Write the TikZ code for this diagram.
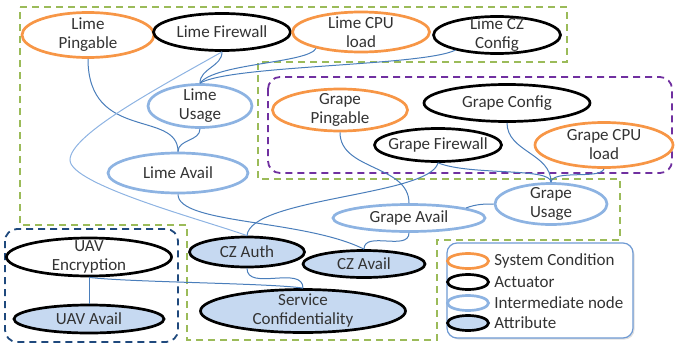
\documentclass[tikz,border=0pt]{standalone}
\usepackage{fontspec}
\setmainfont{Carlito}
\usetikzlibrary{shapes.geometric,shadows,positioning}

\definecolor{condorange}{HTML}{F79646}
\definecolor{interblue}{HTML}{8DB3E2}
\definecolor{attrfill}{HTML}{C6D9F1}
\definecolor{linkblue}{HTML}{4A7EBB}
\definecolor{keyblue}{HTML}{6F9AD3}
\definecolor{zonegreen}{HTML}{9BBB59}
\definecolor{zonepurple}{HTML}{7030A0}
\definecolor{zonenavy}{HTML}{1F497D}

\tikzset{
  dnode/.style={ellipse, line width=2.7pt, fill=white, align=center,
    inner xsep=-15pt, inner ysep=-6pt, text=black!80,
    font=\fontsize{17}{19}\selectfont},
  syscond/.style={dnode, draw=condorange},
  actuator/.style={dnode, draw=black},
  internode/.style={dnode, draw=interblue},
  attribute/.style={dnode, draw=black, fill=attrfill},
  link/.style={draw=linkblue, line width=1pt},
  farlink/.style={draw=interblue, line width=1pt},
  zone/.style={dash pattern=on 7pt off 5pt, line width=1.8pt},
  keytext/.style={text=black!80, font=\fontsize{17}{19}\selectfont},
}

\begin{document}
\begin{tikzpicture}[x=1pt,y=1pt]
      \useasboundingbox (0,0) rectangle (676,-348);
      % zones:
      %   green for the hosts, purple for the Grape host,
      %   navy for the UAV
      \draw[zone, draw=zonegreen] (20,-7) -- (567,-7) -- (567,-62)
        -- (258,-62) -- (258,-179) -- (620,-179) -- (620,-240)
        -- (437,-240) -- (437,-340) -- (187,-340) -- (187,-225)
        -- (20,-225) -- cycle;
      \draw[zone, draw=zonepurple, rounded corners=12pt]
        (268,-77) rectangle (672,-173);
      \draw[zone, draw=zonenavy, rounded corners=12pt]
        (5,-229) rectangle (178,-342);
      % Lime host
      \node[syscond, minimum width=132pt, minimum height=45pt]
        (lping) at (88,-35) {Lime\\Pingable};
      \node[actuator, minimum width=137pt, minimum height=37pt]
        (lfw) at (222,-32) {Lime Firewall};
      \node[syscond, minimum width=137pt, minimum height=40pt]
        (lcpu) at (361,-32) {Lime CPU\\load};
      \node[actuator, minimum width=127pt, minimum height=37pt]
        (lcz) at (497,-35) {Lime CZ\\Config};
      \node[internode, minimum width=104pt, minimum height=43pt]
        (lusage) at (200,-106) {Lime\\Usage};
      \node[internode, minimum width=140pt, minimum height=40pt]
        (lavail) at (178,-173) {Lime Avail};
      % Grape host
      \node[syscond, minimum width=135pt, minimum height=42pt]
        (gping) at (340,-110) {Grape\\Pingable};
      \node[actuator, minimum width=166pt, minimum height=37pt]
        (gcfg) at (507,-103) {Grape Config};
      \node[actuator, minimum width=127pt, minimum height=33pt]
        (gfw) at (438,-145) {Grape Firewall};
      \node[syscond, minimum width=138pt, minimum height=45pt]
        (gcpu) at (604,-145) {Grape CPU\\load};
      \node[internode, minimum width=112pt, minimum height=41pt]
        (gusage) at (551,-204) {Grape\\Usage};
      \node[internode, minimum width=152pt, minimum height=27pt]
        (gavail) at (409,-218) {Grape Avail};
      % attributes
      \node[attribute, minimum width=115pt, minimum height=30pt]
        (czauth) at (247,-252) {CZ Auth};
      \node[attribute, minimum width=122pt, minimum height=27pt]
        (czavail) at (364,-264) {CZ Avail};
      \node[attribute, minimum width=205pt, minimum height=43pt]
        (sconf) at (303,-311) {Service\\Confidentiality};
      % UAV
      \node[actuator, minimum width=165pt, minimum height=38pt]
        (uavenc) at (89,-257) {UAV\\Encryption};
      \node[attribute, minimum width=150pt, minimum height=28pt]
        (uavavail) at (89,-319) {UAV Avail};
      % links
      \draw[link] (lping.south) .. controls +(0,-83) and +(0,42) .. (lavail.north);
      \draw[link] (lfw.south) to[out=-90,in=90] (lusage.north);
      \draw[link] (lcpu.200) .. controls +(-8,-15) and +(15,20) .. (lusage.north);
      \draw[link] (lcz.200) .. controls +(-33,-16) and +(30,18) .. (lusage.north);
      \draw[link] (lusage.south) to[out=-90,in=90] (lavail.north);
      \draw[farlink] (lfw.south) .. controls (156,-89) and (70,-135) .. (70,-160)
        .. controls (70,-185) and (207,-221) .. (czauth.north);
      \draw[link] (lavail.south) .. controls +(0,-30) and +(-60,30) .. (czavail.north);
      \draw[link] (gping.south) to[out=-90,in=90] (gavail.north);
      \draw[link] (gfw.south) .. controls +(-8,-33) and +(3,38) .. (czauth.north);
      \draw[link] (gfw.south) .. controls +(32,-13) and +(0,15) .. (gusage.north);
      \draw[link] (gcfg.south) to[out=-90,in=90] (gusage.north);
      \draw[link] (gcpu.south) .. controls +(-4,-11) and +(2,13) .. (gusage.north);
      \draw[link] (gusage.west) to[out=180,in=20] (gavail.10);
      \draw[link] (gavail.south) to[out=-90,in=90] (czavail.north);
      \draw[link] (czauth.south) to[out=-90,in=90] (sconf.north);
      \draw[link] (uavenc.south) -- (uavavail.north);
      \draw[link] (uavenc.south) .. controls +(40,-5) and +(-30,5) .. (sconf.north);
      % legend
      \node[draw=keyblue, line width=1.2pt, rounded corners=10pt,
        fill=white, drop shadow={opacity=0.25, shadow xshift=1.5pt,
        shadow yshift=-1.5pt}, minimum width=186pt, minimum height=95pt]
        (legend) at (540,-290.5) {};
      \node[syscond, minimum width=41pt, minimum height=15pt] (keycond) at (468,-261) {};
      \node[actuator, minimum width=41pt, minimum height=15pt] (keyact) at (468,-282) {};
      \node[internode, minimum width=41pt, minimum height=15pt] (keyint) at (468,-303) {};
      \node[attribute, minimum width=41pt, minimum height=15pt] (keyattr) at (468,-323) {};
      \node[keytext, right=1pt of keycond] {System Condition};
      \node[keytext, right=1pt of keyact] {Actuator};
      \node[keytext, right=1pt of keyint] {Intermediate node};
      \node[keytext, right=1pt of keyattr] {Attribute};
\end{tikzpicture}
\end{document}
